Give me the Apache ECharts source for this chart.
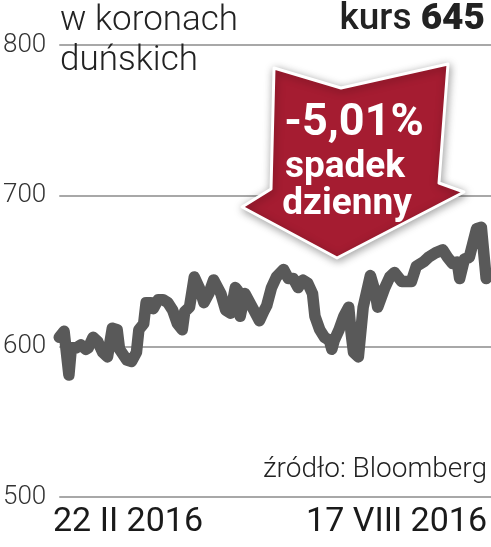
<!DOCTYPE html>
<html><head><meta charset="utf-8">
<script src="https://cdn.jsdelivr.net/npm/echarts@6/dist/echarts.min.js"></script>
<style>html,body{margin:0;padding:0;background:#fff}#c{width:491px;height:547px}</style>
</head><body><div id="c"></div>
<script>
const dates = ['2016-02-22','2016-02-24','2016-02-26','2016-02-27','2016-02-29','2016-03-02','2016-03-04','2016-03-05','2016-03-07','2016-03-09','2016-03-11','2016-03-13','2016-03-15','2016-03-17','2016-03-18','2016-03-21','2016-03-23','2016-03-25','2016-03-26','2016-03-28','2016-03-29','2016-03-31','2016-04-01','2016-04-03','2016-04-05','2016-04-07','2016-04-09','2016-04-11','2016-04-13','2016-04-14','2016-04-16','2016-04-18','2016-04-20','2016-04-22','2016-04-24','2016-04-26','2016-04-29','2016-05-01','2016-05-03','2016-05-05','2016-05-06','2016-05-07','2016-05-09','2016-05-12','2016-05-15','2016-05-17','2016-05-18','2016-05-20','2016-05-22','2016-05-25','2016-05-27','2016-05-29','2016-05-31','2016-06-02','2016-06-04','2016-06-06','2016-06-07','2016-06-09','2016-06-11','2016-06-13','2016-06-14','2016-06-15','2016-06-17','2016-06-19','2016-06-21','2016-06-22','2016-06-23','2016-06-25','2016-06-27','2016-06-30','2016-07-02','2016-07-03','2016-07-06','2016-07-08','2016-07-10','2016-07-13','2016-07-17','2016-07-19','2016-07-22','2016-07-24','2016-07-27','2016-07-30','2016-08-01','2016-08-03','2016-08-05','2016-08-06','2016-08-08','2016-08-10','2016-08-13','2016-08-15','2016-08-17'];
const prices = [606,610,581,599,599,601,598,599,606,603,
596,593,612,611,598,591,590,596,611,615,
629,629,625,631,631,629,624,615,611,623,
626,646,639,629,635,644,635,624,622,639,
637,620,635,626,617,624,627,639,646,651,
645,645,639,644,642,635,620,611,606,604,
598,604,611,620,626,609,596,593,626,647,
636,626,639,646,649,643,643,653,656,659,
662,664,659,655,656,645,658,659,678,679,
645];
const yTicks = [500, 600, 700, 800];
const xTickLabels = ['22 II 2016', '17 VIII 2016'];
const unitLines = ['w koronach', 'duńskich'];
const rateLabel = 'kurs';
const rateValue = '645';
const changeLines = ['-5,01%', 'spadek', 'dzienny'];
const sourceText = 'źródło: Bloomberg';

const chart = echarts.init(document.getElementById('c'), null, {renderer: 'canvas'});
const F = 'Roboto, "Open Sans", sans-serif';
chart.setOption({
  animation: false,
  backgroundColor: '#fff',
  grid: {left: 55, right: 0, top: 45, bottom: 50, containLabel: false},
  xAxis: {
    type: 'time',
    min: '2016-02-22',
    max: '2016-08-19',
    axisLine: {show: false}, axisTick: {show: false}, axisLabel: {show: false},
    splitLine: {show: false}
  },
  yAxis: {
    type: 'value', min: yTicks[0], max: yTicks[yTicks.length - 1], interval: 100,
    axisLine: {show: false}, axisTick: {show: false},
    axisLabel: {margin: 13, fontFamily: F, fontWeight: 300, fontSize: 26, color: '#333'},
    splitLine: {lineStyle: {color: '#a8a8a8', width: 2}}
  },
  series: [{
    type: 'line', symbol: 'none', smooth: false,
    data: dates.map((d, i) => [d, prices[i]]),
    lineStyle: {color: '#595959', width: 11.5, cap: 'round', join: 'round'},
    z: 3
  }],
  graphic: [
    {type: 'text', left: 60, top: 4, z: 10, style: {text: unitLines[0], font: '300 35px ' + F, fill: '#222'}},
    {type: 'text', left: 60, top: 44, z: 10, style: {text: unitLines[1], font: '300 35px ' + F, fill: '#222'}},
    {type: 'text', right: 6, top: 1, z: 10, style: {
      text: '{a|' + rateLabel + ' }{b|' + rateValue + '}',
      rich: {
        a: {fontFamily: F, fontWeight: 500, fontSize: 37, fill: '#222', color: '#222'},
        b: {fontFamily: F, fontWeight: 900, fontSize: 37, fill: '#222', color: '#222'}
      }
    }},
    {type: 'polygon', z: 20, shape: {points: [[274,68],[341,88],[448,64],[439,183],[464,192],[337,258],[242,207],[271,189]]},
      style: {fill: '#a51c31', stroke: '#ffffff', lineWidth: 3, lineJoin: 'round', shadowBlur: 8, shadowColor: 'rgba(0,0,0,0.35)', shadowOffsetX: 1, shadowOffsetY: 2}},
    {type: 'text', z: 21, x: 354, y: 124, style: {text: changeLines[0], font: 'bold 45px ' + F, fill: '#fff', align: 'center', verticalAlign: 'middle'}},
    {type: 'text', z: 21, x: 345, y: 168, style: {text: changeLines[1], font: 'bold 37px ' + F, fill: '#fff', align: 'center', verticalAlign: 'middle'}},
    {type: 'text', z: 21, x: 347, y: 205, style: {text: changeLines[2], font: 'bold 37px ' + F, fill: '#fff', align: 'center', verticalAlign: 'middle'}},
    {type: 'text', z: 10, right: 4, top: 456, style: {text: sourceText, font: '300 28px ' + F, fill: '#222'}},
    {type: 'text', z: 10, left: 53, top: 505, style: {text: xTickLabels[0], font: '34px ' + F, fill: '#1a1a1a'}},
    {type: 'text', z: 10, right: 4, top: 505, style: {text: xTickLabels[1], font: '34px ' + F, fill: '#1a1a1a'}}
  ]
});
</script></body></html>
